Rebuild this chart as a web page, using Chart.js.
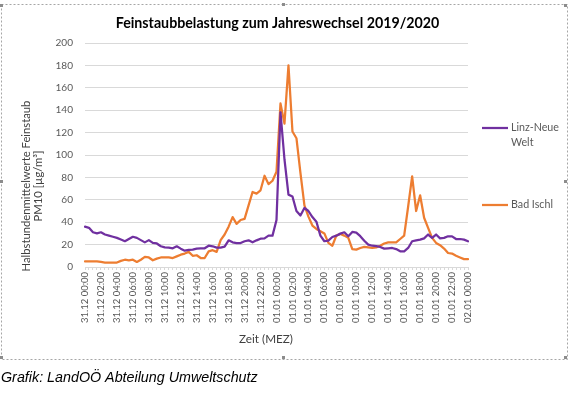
<!DOCTYPE html>
<html><head><meta charset="utf-8">
<script src="https://cdn.jsdelivr.net/npm/chart.js@4.4.1/dist/chart.umd.min.js"></script>
<style>html,body{margin:0;padding:0;background:#fff;overflow:hidden}canvas{display:block}</style>
</head><body>
<canvas id="c" width="574" height="393"></canvas>
<script>
const chartTitle = 'Feinstaubbelastung zum Jahreswechsel 2019/2020';
const yTitleLines = ['Halbstundenmittelwerte Feinstaub', 'PM10 [µg/m³]'];
const xTitle = 'Zeit (MEZ)';
const caption = 'Grafik: LandOÖ Abteilung Umweltschutz';
const seriesNames = ['Linz-Neue Welt', 'Bad Ischl'];
const legendLines = [['Linz-Neue', 'Welt'], ['Bad Ischl']];
const seriesColors = ['#7030A0', '#ED7D31'];

// one label every 4 half-hour values
const tickLabels = [
  '31.12 00:00','31.12 02:00','31.12 04:00','31.12 06:00','31.12 08:00','31.12 10:00',
  '31.12 12:00','31.12 14:00','31.12 16:00','31.12 18:00','31.12 20:00','31.12 22:00',
  '01.01 00:00','01.01 02:00','01.01 04:00','01.01 06:00','01.01 08:00','01.01 10:00',
  '01.01 12:00','01.01 14:00','01.01 16:00','01.01 18:00','01.01 20:00','01.01 22:00',
  '02.01 00:00'
];

const linzNeueWelt = [
  36,35,31,30,31,29,28,27,26,24.5,
  23,25,27,26,24,22,24,21.5,21,18.5,
  17.5,17.3,16.7,18.5,16.4,14.6,15.2,15.5,16.4,16.7,
  16.7,19,18.5,17.3,17.3,18.2,23.8,22,21.4,21.4,
  23,23.8,22,23.8,25.3,25.6,28,28,
  42,138,96,64.6,63,50,46,52.7,50,44.6,40.5,28,
  23,23.5,26.8,28,29.8,31,27.4,31.3,30.7,27.5,
  23.5,20,19,18.7,17.9,16.4,16.7,17,16,14,
  14,17,23,23.8,24.4,25.6,29,26,29,25.6,
  26,27.4,27.4,25,25,24.4,23
];

const badIschl = [
  5,5,5,5,4.5,4,4,4,4,5.5,
  6.5,6,6.5,4.5,6.5,9,8.5,6,7.5,8.5,
  8.5,8.5,8,9.5,11,12,13.5,10,10.5,8,
  8,14,15,13.5,24,29,36,44.5,38.5,42,
  43,55,67,65.5,68.5,81.5,74,77,85,146,
  128,180,121,115,84,55,45,37,34,32,
  30,21.5,19,28,29.5,28,26,16,15.5,17,
  18,17.5,17,17.5,19,21,22,22,22,25,
  28,54,81,50,64,44,35,26,21.5,19.5,
  16.5,12.5,12,10,8.5,7,7
];

const categories = linzNeueWelt.map((_, i) => (i % 4 === 0 ? tickLabels[i / 4] : ''));

const mctx = document.createElement('canvas').getContext('2d');
function fitSize(text, font, target) {
  mctx.font = font.replace('SZ', '100px');
  return 100 * target / mctx.measureText(text).width;
}
const FAM = 'Lato, "Open Sans", sans-serif';
const yTickSize = fitSize('200', 'normal SZ ' + FAM, 17.5);
const xTickSize = fitSize('31.12 00:00', 'normal SZ ' + FAM, 51);
const titleSize = fitSize(chartTitle, 'bold SZ ' + FAM, 324);
const yTitleSize = fitSize(yTitleLines[0], 'normal SZ ' + FAM, 171);
const xTitleSize = fitSize(xTitle, 'normal SZ ' + FAM, 54);
const legendSize = fitSize('Linz-Neue', 'normal SZ ' + FAM, 48);
const captionSize = fitSize(caption, 'italic normal SZ "Liberation Sans", Arial, sans-serif', 257);

const decor = {
  id: 'decor',
  beforeDraw(chart) {
    const c = chart.ctx;
    c.save();
    c.fillStyle = '#fff';
    c.fillRect(0, 0, chart.width, chart.height);
    c.strokeStyle = '#a6a6a6';
    c.lineWidth = 1;
    c.setLineDash([2, 2]);
    c.strokeRect(1.5, 4.5, 566, 355);
    c.setLineDash([]);
    c.fillStyle = '#8c8c8c';
    [[0,4],[282,3],[564,4],[0,180],[564,180],[0,356],[282,356],[564,356]].forEach(p => c.fillRect(p[0], p[1], 3, 3));
    c.restore();
  },
  afterDraw(chart) {
    const c = chart.ctx;
    c.save();
    // title
    c.fillStyle = '#000';
    c.font = 'bold ' + titleSize + 'px ' + FAM;
    c.textAlign = 'center';
    c.textBaseline = 'alphabetic';
    c.fillText(chartTitle, 277.5, 28);
    // y title
    c.fillStyle = '#404040';
    c.font = yTitleSize + 'px ' + FAM;
    c.textBaseline = 'middle';
    c.translate(26, 186);
    c.rotate(-Math.PI / 2);
    c.fillText(yTitleLines[0], 0, 0);
    c.fillText(yTitleLines[1], 0, 12);
    c.setTransform(1, 0, 0, 1, 0, 0);
    // x title
    c.font = xTitleSize + 'px ' + FAM;
    c.fillText(xTitle, 266, 339);
    // legend
    const ly = [128, 205];
    c.font = legendSize + 'px ' + FAM;
    c.textAlign = 'left';
    legendLines.forEach((lines, k) => {
      c.strokeStyle = seriesColors[k];
      c.lineWidth = 2.25;
      c.beginPath();
      c.moveTo(482, ly[k]);
      c.lineTo(508, ly[k]);
      c.stroke();
      c.fillStyle = '#595959';
      lines.forEach((t, j) => c.fillText(t, 511, ly[k] + j * 14.5));
    });
    // caption
    c.fillStyle = '#000';
    c.font = 'italic ' + captionSize + 'px "Liberation Sans", Arial, sans-serif';
    c.textBaseline = 'alphabetic';
    c.fillText(caption, 1, 382);
    c.restore();
  }
};

new Chart(document.getElementById('c'), {
  type: 'line',
  data: {
    labels: categories,
    datasets: [
      { label: seriesNames[0], data: linzNeueWelt, borderColor: seriesColors[0], backgroundColor: seriesColors[0] },
      { label: seriesNames[1], data: badIschl, borderColor: seriesColors[1], backgroundColor: seriesColors[1] }
    ]
  },
  options: {
    responsive: false,
    animation: false,
    devicePixelRatio: 1,
    layout: { padding: { left: 0, right: 106, top: 43, bottom: 0 } },
    plugins: { legend: { display: false }, title: { display: false }, tooltip: { enabled: false } },
    elements: {
      point: { radius: 0, hoverRadius: 0 },
      line: { borderWidth: 2.25, tension: 0, borderCapStyle: 'round', borderJoinStyle: 'round' }
    },
    scales: {
      x: {
        type: 'category',
        offset: false,
        grid: { display: true, drawOnChartArea: false, drawTicks: true, tickLength: 3, color: '#d9d9d9' },
        border: { display: true, color: '#d9d9d9' },
        ticks: {
          autoSkip: false, maxRotation: 90, minRotation: 90, padding: 2,
          color: '#595959', font: { family: FAM, size: xTickSize },
          callback: (v, i) => categories[i]
        },
        afterFit: s => { s.height = 126; }
      },
      y: {
        min: 0, max: 200,
        ticks: { stepSize: 20, color: '#595959', padding: 12, font: { family: FAM, size: yTickSize } },
        grid: { color: '#d9d9d9', drawTicks: false },
        border: { display: false },
        afterFit: s => { s.width = 85; }
      }
    }
  },
  plugins: [decor]
});
</script>
</body></html>
